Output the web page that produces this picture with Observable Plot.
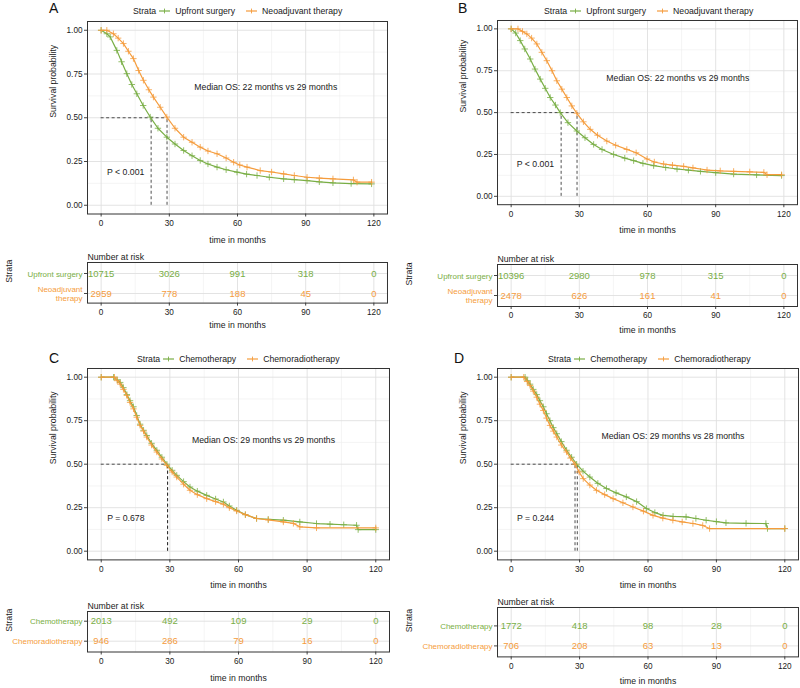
<!DOCTYPE html>
<html><head><meta charset="utf-8">
<script src="https://cdn.jsdelivr.net/npm/d3@7"></script>
<script src="https://cdn.jsdelivr.net/npm/@observablehq/plot@0.6"></script>
<style>
body{margin:0;background:#fff;}
#root{position:relative;width:800px;height:688px;overflow:hidden;font-family:"Liberation Sans",Arial,Helvetica,sans-serif;color:#1a1a1a;}
#root svg{position:absolute;overflow:visible;}
.abs{position:absolute;white-space:nowrap;}
.leg{position:absolute;display:flex;align-items:center;font-size:8.7px;white-space:nowrap;height:12px;}
.leg svg{position:static !important;}
</style></head><body><div id="root"></div>
<script>
const GREEN = "#79ae45", ORANGE = "#f59c3c";

// ---- Data ----
const xTicks = [0, 30, 60, 90, 120];
const xMinor = [15, 45, 75, 105];
const yTicks = [0, 0.25, 0.5, 0.75, 1];
const yMinor = [0.125, 0.375, 0.625, 0.875];

// Panel A
const aUpfront = [[0,1],[2.5,0.98],[4,0.962],[6.9,0.885],[9,0.82],[11.3,0.752],[13.5,0.69],[15.7,0.637],[18.5,0.57],[21.6,0.504],[25,0.44],[28.9,0.389],[32.5,0.35],[36.3,0.313],[40,0.283],[43.6,0.256],[47,0.236],[51,0.218],[55,0.203],[59.8,0.189],[64,0.178],[68.6,0.17],[74,0.16],[80.3,0.151],[85,0.146],[90.6,0.141],[96,0.134],[102,0.128],[110,0.124],[119,0.122]];
const aNeo = [[0,1],[2.5,1],[5.4,0.98],[7.5,0.955],[9.8,0.924],[12,0.88],[14.2,0.838],[16.5,0.77],[18.6,0.714],[21,0.66],[23,0.618],[26,0.56],[28.9,0.504],[32.5,0.44],[36.3,0.389],[40,0.36],[43.6,0.332],[47,0.31],[51,0.294],[55,0.27],[58.3,0.246],[61,0.23],[64.2,0.218],[70,0.198],[75,0.19],[80.3,0.179],[85,0.17],[90.6,0.16],[96,0.155],[102,0.151],[111,0.145],[112.6,0.132],[119,0.132]];
const aRiskUpfront = [10715, 3026, 991, 318, 0];
const aRiskNeo = [2959, 778, 188, 45, 0];
const aMedians = [22, 29];

// Panel B
const bUpfront = [[0,1],[2,0.975],[4,0.93],[6,0.88],[8.4,0.82],[10.5,0.76],[12.8,0.7],[15,0.645],[17.2,0.59],[19.5,0.545],[21.6,0.5],[25,0.44],[28.9,0.39],[32.5,0.35],[36.3,0.31],[40,0.28],[45.1,0.25],[50,0.228],[53.9,0.213],[58,0.197],[62.7,0.183],[68,0.172],[73,0.163],[78,0.156],[83.3,0.149],[90,0.141],[97.9,0.133],[108,0.128],[119,0.124]];
const bNeo = [[0,1],[3,1],[5,0.985],[6.9,0.97],[9,0.945],[11.3,0.91],[13.5,0.86],[15.7,0.81],[18,0.75],[20.1,0.69],[22.3,0.64],[24.5,0.59],[26.7,0.54],[28.9,0.496],[31.8,0.445],[34.8,0.4],[38,0.365],[42.1,0.33],[46,0.305],[50.9,0.28],[55,0.26],[59.8,0.223],[63,0.205],[67.1,0.193],[71,0.186],[75.9,0.179],[80,0.17],[86.2,0.157],[92,0.152],[97.9,0.149],[105,0.146],[111.2,0.143],[112.6,0.129],[119,0.129]];
const bRiskUpfront = [10396, 2980, 978, 315, 0];
const bRiskNeo = [2478, 626, 161, 41, 0];
const bMedians = [22, 29];

// Panel C
const cChemo = [[0,1],[5.4,1],[7,0.985],[8.3,0.97],[9.7,0.94],[11.2,0.9],[12.6,0.865],[14.1,0.83],[15.5,0.78],[17,0.73],[18.5,0.695],[19.9,0.665],[22,0.62],[24.3,0.58],[26.5,0.54],[28.7,0.5],[31,0.465],[33,0.436],[36,0.4],[38.8,0.369],[42,0.345],[46.1,0.321],[50,0.3],[53.4,0.283],[56,0.26],[59.2,0.235],[63,0.21],[67.9,0.188],[73,0.183],[79.6,0.178],[86.8,0.168],[94.1,0.159],[100,0.155],[106,0.152],[111.6,0.149],[112.3,0.124],[120,0.124]];
const cChemoRT = [[0,1],[5.8,1],[7,0.98],[8.3,0.96],[9.7,0.93],[11.2,0.895],[12.6,0.855],[14.1,0.818],[15.5,0.77],[17,0.723],[18.5,0.69],[19.9,0.656],[22,0.61],[24.3,0.57],[26.5,0.53],[28.7,0.493],[31,0.455],[33,0.426],[36,0.385],[38.8,0.35],[42,0.325],[46.1,0.302],[50,0.285],[53.4,0.27],[56,0.25],[59.2,0.231],[63,0.21],[67.9,0.188],[73,0.18],[79.6,0.168],[84,0.16],[86.8,0.14],[94.1,0.134],[120,0.134]];
const cRiskChemo = [2013, 492, 109, 29, 0];
const cRiskChemoRT = [946, 286, 79, 16, 0];
const cMedians = [29, 29];

// Panel D
const dChemo = [[0,1],[6.1,1],[7.2,0.98],[8.3,0.96],[9.7,0.93],[11.2,0.9],[12.6,0.865],[14.1,0.83],[15.5,0.79],[17,0.75],[18.5,0.71],[20,0.675],[22,0.63],[24.3,0.58],[26.5,0.54],[28.7,0.5],[31.5,0.46],[34.5,0.426],[38,0.39],[41.8,0.36],[46,0.335],[50.5,0.312],[55,0.285],[59.3,0.245],[63,0.222],[66.6,0.206],[71,0.2],[76.7,0.197],[81,0.188],[85.5,0.178],[90,0.17],[94.2,0.163],[103,0.16],[111.7,0.159],[112.4,0.13],[120,0.13]];
const dChemoRT = [[0,1],[5.5,1],[7,0.975],[8.3,0.952],[9.7,0.92],[11.2,0.885],[12.6,0.845],[14.1,0.809],[15.5,0.765],[17,0.723],[18.5,0.69],[20,0.656],[22,0.61],[24.3,0.57],[26,0.535],[28,0.5],[29.8,0.455],[31.6,0.417],[34.5,0.38],[37.4,0.35],[41,0.325],[44.7,0.302],[49,0.278],[53.4,0.254],[58,0.23],[62.2,0.206],[66.5,0.19],[70.9,0.178],[75,0.168],[79.7,0.159],[84,0.148],[87,0.13],[120,0.13]];
const dRiskChemo = [1772, 418, 98, 28, 0];
const dRiskChemoRT = [706, 208, 63, 13, 0];
const dMedians = [29, 28];

const surgeryNames = ["Upfront surgery", "Neoadjuvant therapy"];
const surgeryRowLabels = ["Upfront surgery", "Neoadjuvant\ntherapy"];
const chemoNames = ["Chemotherapy", "Chemoradiotherapy"];

// ---- Layout ----
const panels = [
  {letter:"A", col:0, names:surgeryNames, rowLabels:surgeryRowLabels, curves:[aUpfront,aNeo], risk:[aRiskUpfront,aRiskNeo], medians:aMedians,
   medText:"Median OS: 22 months vs 29 months", pText:"P < 0.001", medPos:[41,0.674], pPos:[2.6,0.19],
   curve:{L:87,R:387,T:21.25,B:213.75}, table:{L:87,R:387,T:261.7,B:302.3,r1:272.7,r2:292.7,lab:24.7,tick:11.7},
   letterPos:[49,13.3], legendPos:[133,10.5]},
  {letter:"B", col:400, names:surgeryNames, rowLabels:surgeryRowLabels, curves:[bUpfront,bNeo], risk:[bRiskUpfront,bRiskNeo], medians:bMedians,
   medText:"Median OS: 22 months vs 29 months", pText:"P < 0.001", medPos:[41.9,0.703], pPos:[2.5,0.19],
   curve:{L:497,R:797,T:19.9,B:204.1}, table:{L:497,R:797,T:264,B:306,r1:275,r2:295,lab:26,tick:11},
   letterPos:[458,12.7], legendPos:[544,11]},
  {letter:"C", col:0, names:chemoNames, rowLabels:chemoNames, curves:[cChemo,cChemoRT], risk:[cRiskChemo,cRiskChemoRT], medians:cMedians,
   medText:"Median OS: 29 months vs 29 months", pText:"P = 0.678", medPos:[39.7,0.638], pPos:[2.6,0.188],
   curve:{L:87,R:389,T:368.3,B:559.7}, table:{L:87,R:389,T:611,B:651.5,r1:620.7,r2:640.7,lab:28.5,tick:9.8},
   letterPos:[49,363], legendPos:[137,359]},
  {letter:"D", col:400, names:chemoNames, rowLabels:chemoNames, curves:[dChemo,dChemoRT], risk:[dRiskChemo,dRiskChemoRT], medians:dMedians,
   medText:"Median OS: 29 months vs 28 months", pText:"P = 0.244", medPos:[39.6,0.663], pPos:[2.5,0.19],
   curve:{L:497,R:798,T:368.3,B:559.7}, table:{L:497,R:798,T:607.3,B:656.7,r1:625.7,r2:645.7,lab:27.3,tick:10.3},
   letterPos:[454,363], legendPos:[548,359]}
];
const COLORS = [GREEN, ORANGE];
const FONT = '"Liberation Sans", Arial, Helvetica, sans-serif';
const root = document.getElementById("root");

function place(node, left, top) {
  node.style.position = "absolute";
  node.style.left = left + "px";
  node.style.top = top + "px";
  root.appendChild(node);
}

function curvePlot(P) {
  const c = P.curve, col = P.col;
  const top = c.T - 25, height = c.B + 40 - top;
  const maxMed = Math.max(...P.medians);
  const marks = [
    Plot.gridX(xMinor, {stroke:"#efefef", strokeOpacity:1, strokeWidth:0.6}),
    Plot.gridY(yMinor, {stroke:"#efefef", strokeOpacity:1, strokeWidth:0.6}),
    Plot.gridX(xTicks, {stroke:"#e0e0e0", strokeOpacity:1, strokeWidth:0.9}),
    Plot.gridY(yTicks, {stroke:"#e0e0e0", strokeOpacity:1, strokeWidth:0.9}),
    Plot.axisX(xTicks, {tickSize:3, tickPadding:3, label:null, fontSize:8.2, stroke:"#444"}),
    Plot.axisY(yTicks, {tickSize:3, tickPadding:2, label:null, fontSize:8.2, stroke:"#444", tickFormat:d3.format(".2f")}),
    Plot.ruleY([0.5], {x1:0, x2:maxMed, stroke:"#222", strokeWidth:0.8, strokeDasharray:"3,2.5"}),
    Plot.ruleX(P.medians, {y1:0, y2:0.5, stroke:"#222", strokeWidth:0.8, strokeDasharray:"3,2.5"})
  ];
  P.curves.forEach((cv, i) => {
    marks.push(Plot.line(cv, {x:d=>d[0], y:d=>d[1], stroke:COLORS[i], strokeWidth:1.2}));
    marks.push(Plot.dot(cv, {x:d=>d[0], y:d=>d[1], symbol:"plus", r:2.2, stroke:COLORS[i], strokeWidth:0.8}));
  });
  marks.push(
    Plot.text([P.medText], {x:P.medPos[0], y:P.medPos[1], text:d=>d, textAnchor:"start", fontSize:8.7, fill:"#1a1a1a"}),
    Plot.text([P.pText], {x:P.pPos[0], y:P.pPos[1], text:d=>d, textAnchor:"start", fontSize:8.7, fill:"#1a1a1a"}),
    Plot.text(["time in months"], {frameAnchor:"bottom", dy:28.5, text:d=>d, fontSize:8.7, fill:"#1a1a1a"}),
    Plot.text(["Survival probability"], {frameAnchor:"left", dx:-34, rotate:-90, text:d=>d, fontSize:8.7, fill:"#1a1a1a"}),
    Plot.frame({stroke:"#333", strokeWidth:1})
  );
  const svg = Plot.plot({
    width:400, height,
    marginLeft:c.L - col, marginRight:col + 400 - c.R, marginTop:c.T - top, marginBottom:top + height - c.B,
    x:{domain:[-6,126]}, y:{domain:[-0.05,1.05]},
    style:{fontFamily:FONT, fontSize:"8.2px", background:"transparent", color:"#1a1a1a", overflow:"visible"},
    marks
  });
  place(svg, col, top);
}

function tablePlot(P) {
  const t = P.table, col = P.col;
  const top = t.T - 20, height = t.B + 36 - top;
  const sp = t.r2 - t.r1;
  const vT = 1 + (t.T - t.r1) / sp, vB = 1 + (t.B - t.r1) / sp;
  const marks = [
    Plot.gridX(xMinor, {stroke:"#efefef", strokeOpacity:1, strokeWidth:0.6}),
    Plot.gridX(xTicks, {stroke:"#e0e0e0", strokeOpacity:1, strokeWidth:0.9}),
    Plot.gridY([1,2], {stroke:"#e0e0e0", strokeOpacity:1, strokeWidth:0.9}),
    Plot.axisX(xTicks, {tickSize:3, tickPadding:3, label:null, fontSize:8.2, stroke:"#444"}),
    Plot.axisY([1,2], {tickSize:3, tickPadding:2, label:null, tickFormat:()=>"", stroke:"#444"})
  ];
  P.risk.forEach((arr, i) => {
    marks.push(Plot.text(arr, {x:(d,j)=>xTicks[j], y:()=>i+1, text:d=>String(d), fill:COLORS[i], fontSize:9.5}));
    marks.push(Plot.text([P.rowLabels[i]], {y:()=>i+1, frameAnchor:"left", dx:-5, textAnchor:"end", text:d=>d, fill:COLORS[i], fontSize:8, lineHeight:1.2}));
  });
  marks.push(
    Plot.text(["Number at risk"], {frameAnchor:"top-left", dy:-9, textAnchor:"start", text:d=>d, fontSize:8.7, fill:"#1a1a1a"}),
    Plot.text(["time in months"], {frameAnchor:"bottom", dy:t.lab, text:d=>d, fontSize:8.7, fill:"#1a1a1a"}),
    Plot.text(["Strata"], {frameAnchor:"left", dx:-(t.L - col - 9), rotate:-90, text:d=>d, fontSize:8.7, fill:"#1a1a1a"}),
    Plot.frame({stroke:"#333", strokeWidth:1})
  );
  const svg = Plot.plot({
    width:400, height,
    marginLeft:t.L - col, marginRight:col + 400 - t.R, marginTop:t.T - top, marginBottom:top + height - t.B,
    x:{domain:[-6,126]}, y:{domain:[vT, vB], reverse:true},
    style:{fontFamily:FONT, fontSize:"8.2px", background:"transparent", color:"#1a1a1a", overflow:"visible"},
    marks
  });
  place(svg, col, top);
}

function legendSym(color) {
  const ns = "http://www.w3.org/2000/svg";
  const s = document.createElementNS(ns, "svg");
  s.setAttribute("width", 11); s.setAttribute("height", 8);
  s.style.margin = "0 5px 0 3px";
  s.innerHTML = `<line x1="0" x2="11" y1="4" y2="4" stroke="${color}" stroke-width="1.2"/><line x1="5.5" x2="5.5" y1="1.6" y2="6.4" stroke="${color}" stroke-width="0.9"/>`;
  return s;
}

function decorations(P) {
  const L = document.createElement("div");
  L.className = "abs";
  L.textContent = P.letter;
  L.style.fontSize = "14px";
  L.style.lineHeight = "14px";
  L.style.color = "#111";
  place(L, P.letterPos[0], P.letterPos[1] - 11.9);
  const g = document.createElement("div");
  g.className = "leg";
  const st = document.createElement("span"); st.textContent = "Strata"; g.appendChild(st);
  P.names.forEach((n, i) => {
    g.appendChild(legendSym(COLORS[i]));
    const sp = document.createElement("span"); sp.textContent = n;
    sp.style.marginRight = i === 0 ? "8px" : "0";
    g.appendChild(sp);
  });
  place(g, P.legendPos[0], P.legendPos[1] - 6);
}

panels.forEach(P => { curvePlot(P); tablePlot(P); decorations(P); });
</script></body></html>
